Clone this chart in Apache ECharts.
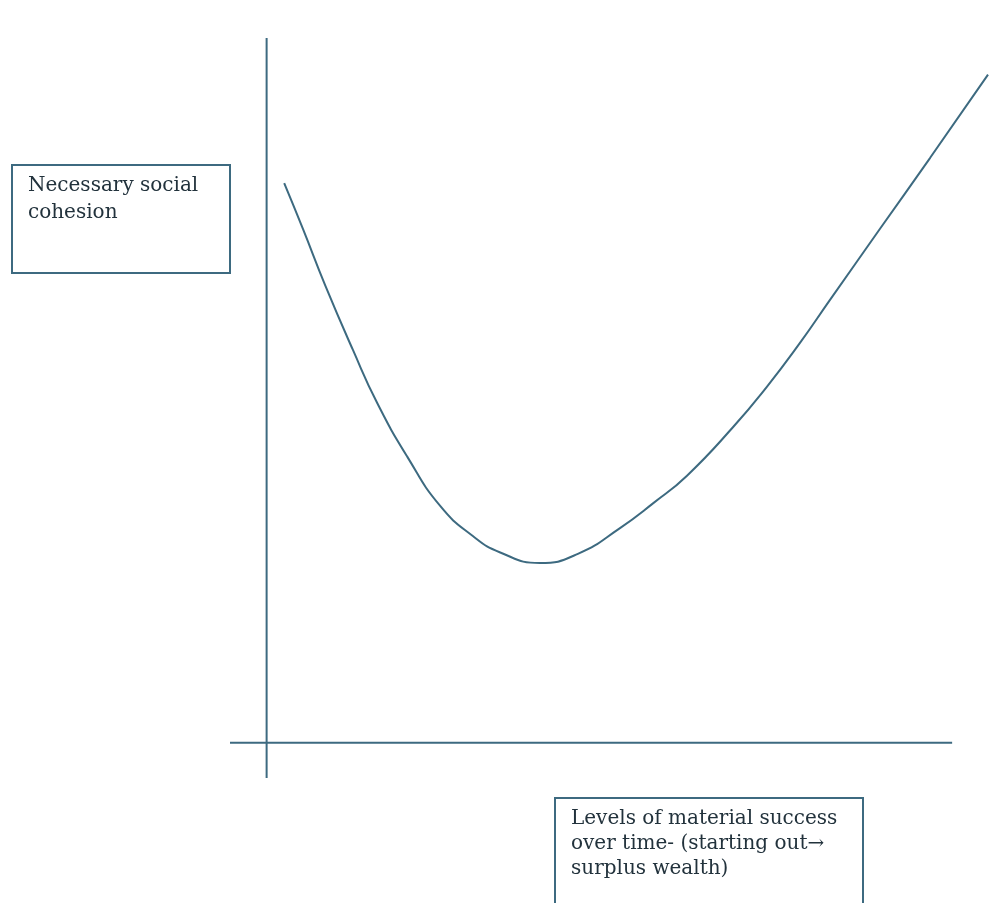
<!DOCTYPE html>
<html>
<head>
<meta charset="utf-8">
<script src="https://cdn.jsdelivr.net/npm/echarts@6/dist/echarts.min.js"></script>
<style>
html,body{margin:0;padding:0;background:#fff;}
#chart{width:999px;height:903px;}
</style>
</head>
<body>
<div id="chart"></div>
<script>
// Curve: material success level (x) vs necessary social cohesion (y)
const successLevels = [2.4, 5.0, 8.0, 11.8, 15.1, 19.2, 23.7, 28.2, 31.9, 37.3, 42.5, 48.3, 52.8, 57.4, 63.7, 68.3, 72.8, 76.9, 83.8, 90.6, 98.5];
const cohesionValues = [79.4, 72.8, 64.9, 55.7, 48.2, 40.6, 33.6, 29.3, 27.0, 25.5, 26.8, 30.5, 34.0, 37.9, 44.8, 50.5, 56.7, 62.8, 73.0, 83.0, 94.8];

// Axis line extents (data units)
const xAxisLineX = [-5, 93.6];
const yAxisLineY = [-5, 100];

const yLabelLines = ["Necessary social", "cohesion"];
const xLabelLines = ["Levels of material success", "over time- (starting out\u2192", "surplus wealth)"];

const lineColor = '#3d6a80';
const textColor = '#22323c';

const chart = echarts.init(document.getElementById('chart'), null, {renderer: 'canvas'});

const curveData = successLevels.map((x, i) => [x, cohesionValues[i]]);

const option = {
  backgroundColor: '#ffffff',
  animation: false,
  grid: {left: 230, top: 38, width: 769, height: 740},
  xAxis: {type: 'value', min: -5, max: 100, show: false},
  yAxis: {type: 'value', min: -5, max: 100, show: false},
  series: [
    {
      type: 'line',
      data: [[xAxisLineX[0], 0], [xAxisLineX[1], 0]],
      symbol: 'none',
      lineStyle: {color: lineColor, width: 2},
      silent: true
    },
    {
      type: 'line',
      data: [[0, yAxisLineY[0]], [0, yAxisLineY[1]]],
      symbol: 'none',
      lineStyle: {color: lineColor, width: 2},
      silent: true
    },
    {
      type: 'line',
      data: curveData,
      smooth: 0.5,
      symbol: 'none',
      lineStyle: {color: lineColor, width: 2},
      silent: true
    }
  ],
  graphic: [
    {
      type: 'rect',
      shape: {x: 12, y: 165, width: 218, height: 108},
      style: {fill: '#fff', stroke: lineColor, lineWidth: 2}
    },
    {
      type: 'text',
      left: 28, top: 172,
      style: {
        text: yLabelLines.join('\n'),
        font: '20px "DejaVu Serif", serif',
        fill: textColor,
        lineHeight: 27
      }
    },
    {
      type: 'rect',
      shape: {x: 555, y: 798, width: 308, height: 110},
      style: {fill: '#fff', stroke: lineColor, lineWidth: 2}
    },
    {
      type: 'text',
      left: 571, top: 806,
      style: {
        text: xLabelLines.join('\n'),
        font: '20px "DejaVu Serif", serif',
        fill: textColor,
        lineHeight: 25
      }
    }
  ]
};

chart.setOption(option);
</script>
</body>
</html>
